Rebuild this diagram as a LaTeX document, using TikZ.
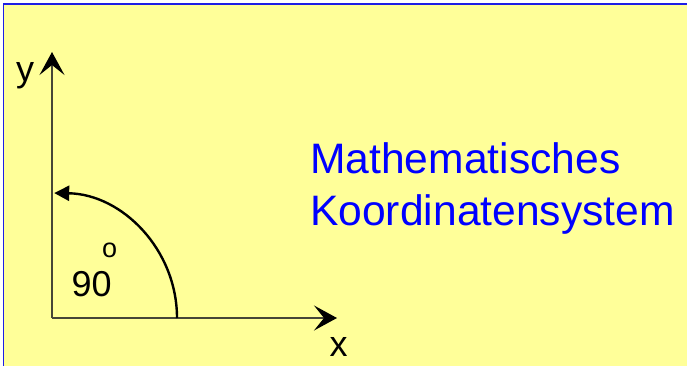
\documentclass[tikz,border=0pt]{standalone}
\usepackage{fontspec}
\setmainfont{Liberation Sans}
\usetikzlibrary{arrows.meta}
\definecolor{bgyellow}{RGB}{255,255,153}
\definecolor{framblue}{RGB}{30,30,230}
\definecolor{axisgray}{RGB}{70,70,55}
\definecolor{textblue}{RGB}{0,0,255}
\begin{document}
\begin{tikzpicture}[x=1pt,y=-1pt,
  axisline/.style={draw=axisgray, line width=1.3pt,
    -{Stealth[length=23pt,width=25pt,inset=10pt,color=black]}},
  anglearc/.style={draw=black, line width=2.4pt,
    -{Triangle[length=15pt,width=15pt]}},
  axislabel/.style={anchor=base west, inner sep=0pt, font=\fontsize{36}{40}\selectfont},
  title/.style={anchor=base west, inner sep=0pt, text=textblue, font=\fontsize{42.6}{50}\selectfont}]
\useasboundingbox (0,0) rectangle (687,366);
\fill[white] (0,0) rectangle (687,366);
\fill[bgyellow] (3.3,4.2) rectangle (687,366);
\draw[framblue, line width=1.5pt] (3.3,366) -- (3.3,4.2) -- (687,4.2);
% axes
\coordinate (O) at (52,318);
\coordinate (Ytip) at (52,52);
\coordinate (Xtip) at (337,318);
\draw[axisline] (O) -- (Ytip);
\draw[axisline] (O) -- (Xtip);
% angle arc
\coordinate (A0) at (177,318);
\draw[anglearc] (A0) arc[start angle=0, end angle=-89, radius=125];
% labels
\node[axislabel] (ylab) at (16,82) {y};
\node[axislabel] (xlab) at (329.5,356) {x};
\node[axislabel] (angle) at (71.5,296) {90};
\node[anchor=base west, inner sep=0pt, font=\fontsize{27}{32}\selectfont] (deg) at (102,257.5) {o};
% title
\node[title] (t1) at (310,173) {Mathematisches};
\node[title] (t2) at (310,225) {Koordinatensystem};
\end{tikzpicture}
\end{document}
